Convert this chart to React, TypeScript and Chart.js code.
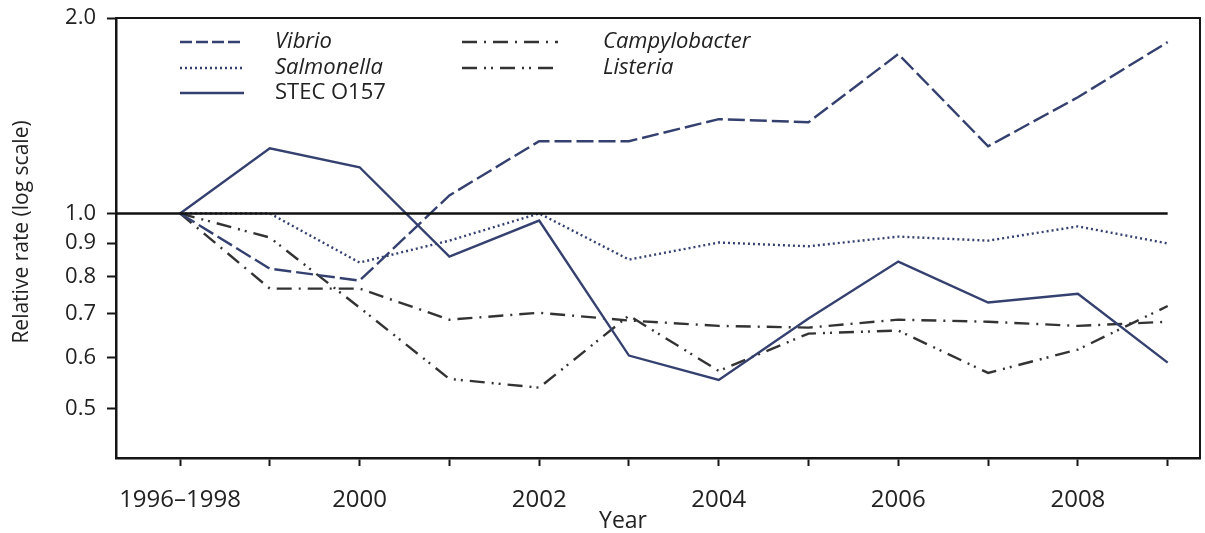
import React, { useEffect, useRef } from 'react';
import { Chart, registerables } from 'chart.js';

Chart.register(...registerables);

// ---- data ----
const yearIndex = [0, 1, 2, 3, 4, 5, 6, 7, 8, 9, 10, 11];
const xTickLabels = ['1996–1998', '', '2000', '', '2002', '', '2004', '', '2006', '', '2008', ''];
const yTickValues = [0.5, 0.6, 0.7, 0.8, 0.9, 1.0, 2.0];

const vibrio = [1.0, 0.822, 0.788, 1.066, 1.292, 1.292, 1.397, 1.382, 1.76, 1.269, 1.51, 1.836];
const salmonella = [1.0, 1.0, 0.84, 0.908, 1.0, 0.849, 0.902, 0.89, 0.921, 0.908, 0.955, 0.899];
const stec = [1.0, 1.26, 1.178, 0.858, 0.975, 0.604, 0.554, 0.689, 0.843, 0.729, 0.752, 0.589];
const campylobacter = [1.0, 0.766, 0.766, 0.686, 0.703, 0.684, 0.671, 0.667, 0.686, 0.681, 0.671, 0.681];
const listeria = [1.0, 0.918, 0.716, 0.556, 0.539, 0.696, 0.572, 0.653, 0.66, 0.568, 0.617, 0.72];

const seriesLabels = ['Vibrio', 'Salmonella', 'STEC O157', 'Campylobacter', 'Listeria'];

const X_MIN = -0.713;
const X_MAX = 11.36;
const Y_MIN = 0.42;
const Y_MAX = 2.0;

const NAVY = '#34406f';
const GRAY = '#333333';
const TEXT = '#222222';
const FONT = "'Open Sans', 'DejaVu Sans', sans-serif";

const toPts = (arr: number[]) => arr.map((v, i) => ({ x: yearIndex[i], y: v }));

const legendLayout: Record<string, { x0: number; x1: number; tx: number; y: number; italic: boolean }> = {
  'Vibrio': { x0: 180, x1: 244, tx: 275, y: 42, italic: true },
  'Salmonella': { x0: 180, x1: 244, tx: 275, y: 68, italic: true },
  'STEC O157': { x0: 180, x1: 244, tx: 275, y: 93, italic: false },
  'Campylobacter': { x0: 462, x1: 558, tx: 603, y: 42, italic: true },
  'Listeria': { x0: 462, x1: 558, tx: 603, y: 68, italic: true },
};

const framePlugin = {
  id: 'frame',
  beforeDatasetsDraw(chart: any) {
    const { ctx, chartArea } = chart;
    ctx.save();
    ctx.strokeStyle = '#151515';
    ctx.lineWidth = 2;
    ctx.beginPath();
    ctx.moveTo(chartArea.left, chartArea.top);
    ctx.lineTo(chartArea.right, chartArea.top);
    ctx.lineTo(chartArea.right, chartArea.bottom);
    ctx.stroke();
    ctx.restore();
  },
};

const legendAndTitlesPlugin = {
  id: 'legendAndTitles',
  afterDraw(chart: any) {
    const { ctx } = chart;
    ctx.save();
    chart.data.datasets.forEach((ds: any) => {
      const L = legendLayout[ds.label];
      if (!L) return;
      ctx.strokeStyle = ds.borderColor;
      ctx.lineWidth = ds.borderWidth;
      ctx.setLineDash(ds.legendDash || ds.borderDash || []);
      ctx.beginPath();
      ctx.moveTo(L.x0, L.y);
      ctx.lineTo(L.x1, L.y);
      ctx.stroke();
      ctx.setLineDash([]);
      ctx.fillStyle = TEXT;
      ctx.font = `${L.italic ? 'italic ' : ''}22px ${FONT}`;
      ctx.textBaseline = 'middle';
      ctx.textAlign = 'left';
      ctx.fillText(ds.label, L.tx, L.y);
    });
    // x title
    ctx.font = `23px ${FONT}`;
    ctx.textAlign = 'center';
    ctx.textBaseline = 'middle';
    ctx.fillStyle = TEXT;
    ctx.fillText('Year', 623, 521);
    // y title
    ctx.translate(22, 232);
    ctx.rotate(-Math.PI / 2);
    ctx.font = `21px ${FONT}`;
    ctx.fillText('Relative rate (log scale)', 0, 0);
    ctx.restore();
  },
};

export default function App() {
  const ref = useRef<HTMLCanvasElement | null>(null);

  useEffect(() => {
    document.body.style.margin = '0';
    const canvas = ref.current;
    if (!canvas) return;
    const chart = new Chart(canvas, {
      type: 'line',
      data: {
        datasets: [
          {
            label: '',
            data: [{ x: X_MIN, y: 1.0 }, { x: yearIndex[yearIndex.length - 1], y: 1.0 }],
            borderColor: '#111',
            borderWidth: 2.5,
            pointRadius: 0,
          },
          {
            label: seriesLabels[0],
            data: toPts(vibrio),
            borderColor: NAVY,
            borderWidth: 2.4,
            borderDash: [17, 5],
            legendDash: [12, 4],
            pointRadius: 0,
          },
          {
            label: seriesLabels[1],
            data: toPts(salmonella),
            borderColor: NAVY,
            borderWidth: 2.4,
            borderDash: [2, 3],
            pointRadius: 0,
          },
          {
            label: seriesLabels[2],
            data: toPts(stec),
            borderColor: NAVY,
            borderWidth: 2.4,
            pointRadius: 0,
          },
          {
            label: seriesLabels[3],
            data: toPts(campylobacter),
            borderColor: GRAY,
            borderWidth: 2.4,
            borderDash: [15, 7, 2, 7],
            pointRadius: 0,
          },
          {
            label: seriesLabels[4],
            data: toPts(listeria),
            borderColor: GRAY,
            borderWidth: 2.4,
            borderDash: [15, 7, 2, 5, 2, 7],
            pointRadius: 0,
          },
        ],
      },
      options: {
        animation: false,
        responsive: false,
        maintainAspectRatio: false,
        layout: { padding: { left: 0, top: 18, right: 5, bottom: 0 } },
        plugins: {
          legend: { display: false },
          tooltip: { enabled: false },
          title: { display: false },
        },
        scales: {
          x: {
            type: 'linear',
            min: X_MIN,
            max: X_MAX,
            afterBuildTicks: (s: any) => {
              s.ticks = yearIndex.map((v) => ({ value: v }));
            },
            afterFit: (s: any) => {
              s.height = 75;
              s.paddingLeft = 0;
              s.paddingRight = 0;
            },
            ticks: {
              autoSkip: false,
              maxRotation: 0,
              padding: 20,
              color: TEXT,
              font: { family: FONT, size: 24 },
              callback: (v: any) => xTickLabels[v] ?? '',
            },
            grid: {
              display: true,
              drawOnChartArea: false,
              drawTicks: true,
              tickLength: 8,
              tickColor: '#151515',
              tickWidth: 2,
            },
            border: { display: true, color: '#151515', width: 2.5 },
          },
          y: {
            type: 'logarithmic',
            min: Y_MIN,
            max: Y_MAX,
            afterBuildTicks: (s: any) => {
              s.ticks = yTickValues.map((v) => ({ value: v }));
            },
            afterFit: (s: any) => {
              s.width = 116;
              s.paddingTop = 0;
              s.paddingBottom = 0;
            },
            ticks: {
              autoSkip: false,
              padding: 11,
              color: TEXT,
              font: { family: FONT, size: 22 },
              callback: (v: any) => Number(v).toFixed(1),
            },
            grid: {
              display: true,
              drawOnChartArea: false,
              drawTicks: true,
              tickLength: 9,
              tickColor: '#151515',
              tickWidth: 2,
            },
            border: { display: true, color: '#151515', width: 2.5 },
          },
        },
      } as any,
      plugins: [framePlugin, legendAndTitlesPlugin],
    });
    return () => chart.destroy();
  }, []);

  return (
    <div style={{ width: 1205, height: 533, background: '#fff' }}>
      <canvas ref={ref} width={1205} height={533} style={{ display: 'block', width: 1205, height: 533 }} />
    </div>
  );
}
